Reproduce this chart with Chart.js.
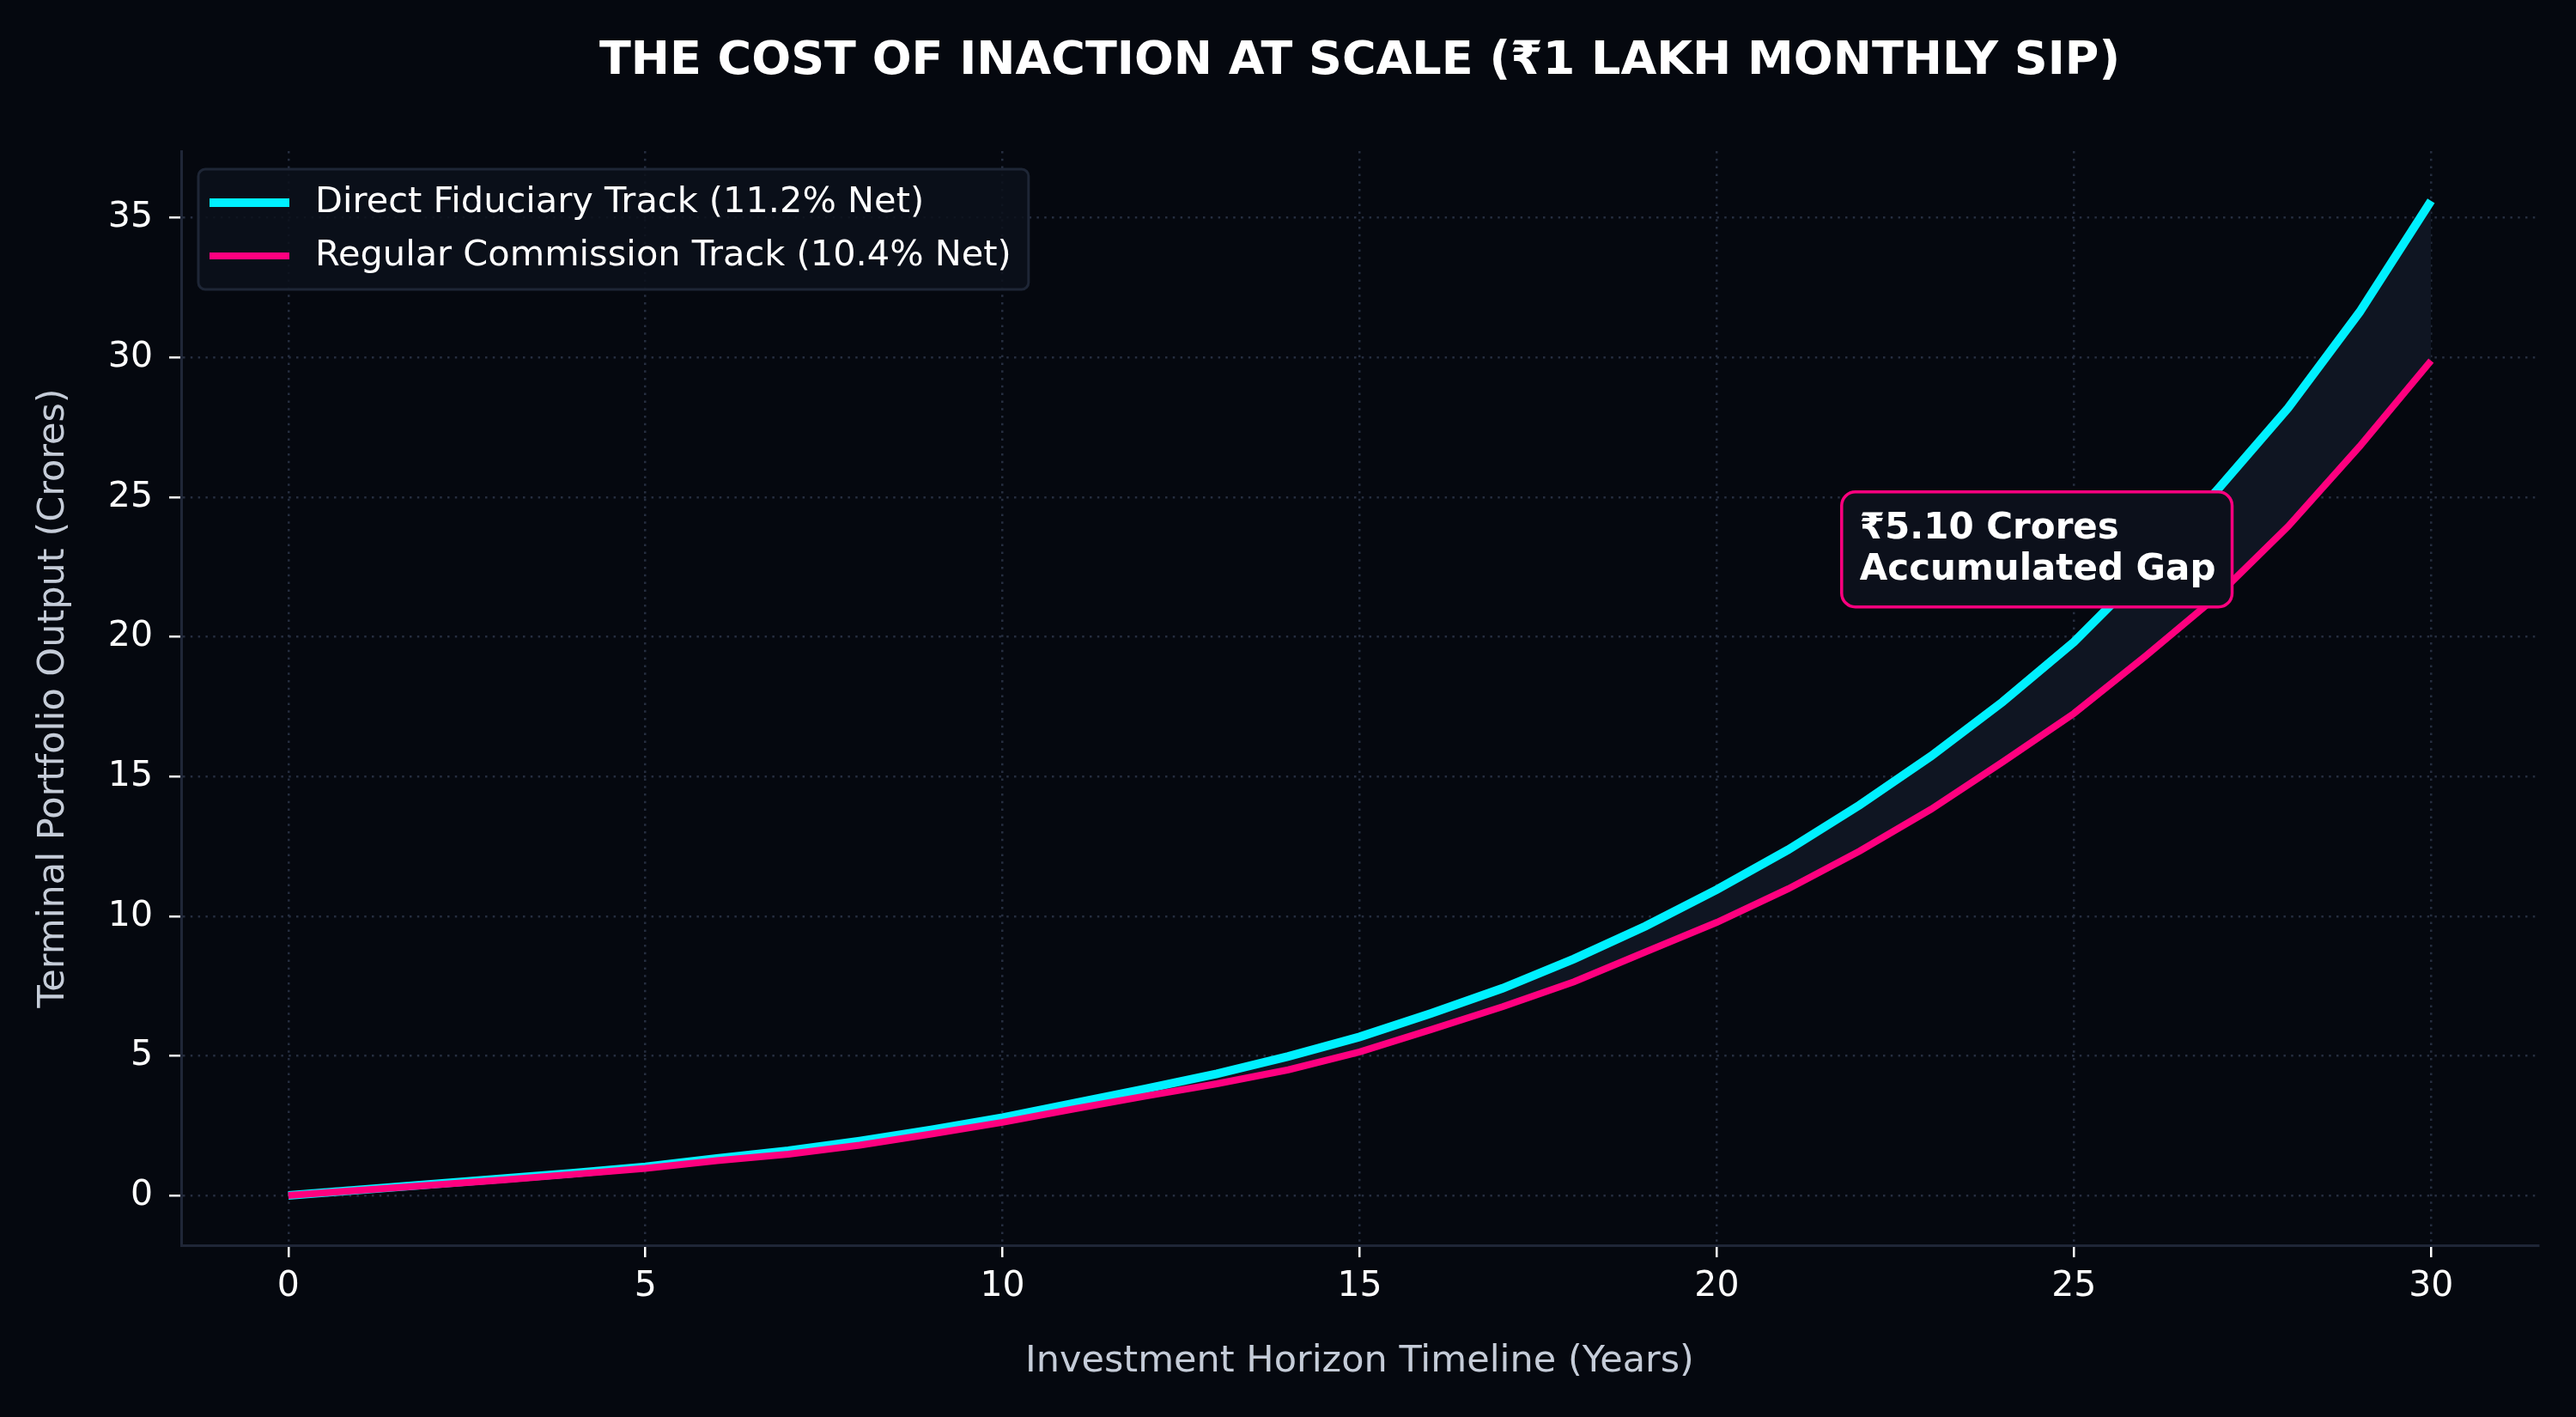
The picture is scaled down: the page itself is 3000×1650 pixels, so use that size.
<!DOCTYPE html>
<html>
<head>
<meta charset="utf-8">
<script src="https://cdn.jsdelivr.net/npm/chart.js@4.4.1/dist/chart.umd.min.js"></script>
<style>
  html, body { margin: 0; padding: 0; background: #05080f; }
  canvas { display: block; }
</style>
</head>
<body>
<canvas id="gapChart" width="3000" height="1650"></canvas>
<script>
// values (crores)
var years = [0, 1, 2, 3, 4, 5, 6, 7, 8, 9, 10, 11, 12, 13, 14, 15, 16, 17, 18, 19, 20, 21, 22, 23, 24, 25, 26, 27, 28, 29, 30];
var directTrack = [0, 0.2, 0.4, 0.6, 0.8, 1.03, 1.33, 1.6, 1.95, 2.35, 2.79, 3.3, 3.82, 4.36, 4.98, 5.68, 6.52, 7.42, 8.47, 9.64, 10.95, 12.38, 13.98, 15.73, 17.67, 19.82, 22.38, 25.24, 28.2, 31.63, 35.61];
var regularTrack = [0, 0.19, 0.37, 0.56, 0.76, 0.97, 1.25, 1.48, 1.8, 2.2, 2.62, 3.1, 3.56, 4.0, 4.5, 5.14, 5.94, 6.76, 7.65, 8.72, 9.78, 10.98, 12.33, 13.83, 15.52, 17.26, 19.31, 21.45, 23.96, 26.82, 29.89];
var xTicks = [0, 5, 10, 15, 20, 25, 30];
var yTicks = [0, 5, 10, 15, 20, 25, 30, 35];
var seriesNames = ['Direct Fiduciary Track (11.2% Net)', 'Regular Commission Track (10.4% Net)'];
var chartTitle = 'THE COST OF INACTION AT SCALE (\u20b91 LAKH MONTHLY SIP)';
var gapNote = ['\u20b95.10 Crores', 'Accumulated Gap'];
var gapNoteAt = { x: 22, y: 23.1 };

var FONT = '"DejaVu Sans", sans-serif';
var gridColor = '#262e40';
var spineColor = '#1f2637';

function toPoints(vals) {
  return years.map(function (yr, i) { return { x: yr, y: vals[i] }; });
}

var extras = {
  id: 'extras',
  afterDraw: function (chart) {
    var ctx = chart.ctx, ca = chart.chartArea;
    var xs = chart.scales.x, ys = chart.scales.y;
    ctx.save();

    // title
    ctx.fillStyle = '#ffffff';
    ctx.font = 'bold 54px ' + FONT;
    ctx.textAlign = 'center';
    ctx.textBaseline = 'alphabetic';
    ctx.fillText(chartTitle, (ca.left + ca.right) / 2, 86);

    // legend
    ctx.font = '41.5px ' + FONT;
    var lx = ca.left + 20, ly = ca.top + 21;
    var tw = Math.max.apply(null, seriesNames.map(function (s) { return ctx.measureText(s).width; }));
    var lw = 136 + tw + 20, lh = 140;
    ctx.beginPath();
    ctx.roundRect(lx, ly, lw, lh, 8);
    ctx.fillStyle = 'rgba(12,16,27,0.85)';
    ctx.fill();
    ctx.lineWidth = 3;
    ctx.strokeStyle = '#1e2636';
    ctx.stroke();
    chart.data.datasets.forEach(function (ds, i) {
      var cy = ly + 39 + i * 62;
      ctx.beginPath();
      ctx.moveTo(lx + 13, cy);
      ctx.lineTo(lx + 106, cy);
      ctx.lineWidth = ds.borderWidth;
      ctx.strokeStyle = ds.borderColor;
      ctx.stroke();
      ctx.fillStyle = '#ffffff';
      ctx.textAlign = 'left';
      ctx.textBaseline = 'middle';
      ctx.fillText(ds.label, lx + 136, cy);
    });

    // gap annotation
    ctx.font = 'bold 42px ' + FONT;
    var nx = xs.getPixelForValue(gapNoteAt.x);
    var ny = ys.getPixelForValue(gapNoteAt.y);
    var nw = Math.max.apply(null, gapNote.map(function (s) { return ctx.measureText(s).width; }));
    ctx.beginPath();
    ctx.roundRect(nx - 21, ny - 68, nw + 40, 134, 16);
    ctx.fillStyle = '#0c101b';
    ctx.fill();
    ctx.lineWidth = 3.5;
    ctx.strokeStyle = '#ff007f';
    ctx.stroke();
    ctx.fillStyle = '#ffffff';
    ctx.textAlign = 'left';
    ctx.textBaseline = 'alphabetic';
    ctx.fillText(gapNote[0], nx, ny - 14);
    ctx.fillText(gapNote[1], nx, ny + 34);

    ctx.restore();
  }
};

new Chart('gapChart', {
  type: 'line',
  data: {
    datasets: [
      {
        label: seriesNames[0],
        data: toPoints(directTrack),
        borderColor: '#00f0ff',
        borderWidth: 10,
        backgroundColor: '#0f1522',
        fill: '+1',
        pointRadius: 0,
        tension: 0,
        order: 1
      },
      {
        label: seriesNames[1],
        data: toPoints(regularTrack),
        borderColor: '#ff007f',
        borderWidth: 8,
        fill: false,
        pointRadius: 0,
        tension: 0,
        order: 0
      }
    ]
  },
  options: {
    responsive: false,
    animation: false,
    devicePixelRatio: 1,
    layout: { padding: { top: 176, right: 44, left: 0, bottom: 0 } },
    plugins: {
      legend: { display: false },
      title: { display: false },
      tooltip: { enabled: false }
    },
    scales: {
      x: {
        type: 'linear',
        min: -1.5,
        max: 31.5,
        afterBuildTicks: function (s) { s.ticks = xTicks.map(function (v) { return { value: v }; }); },
        afterFit: function (s) { s.height = 200; },
        grid: {
          color: gridColor, lineWidth: 2.5,
          tickLength: 14, tickColor: '#ffffff', tickWidth: 2.5, tickBorderDash: []
        },
        border: { color: spineColor, width: 3, dash: [2.5, 6.3] },
        ticks: { color: '#ffffff', font: { family: FONT, size: 41 }, padding: 10, maxRotation: 0 },
        title: {
          display: true, text: 'Investment Horizon Timeline (Years)', color: '#c5ccd8',
          font: { family: FONT, size: 43 }, padding: { bottom: 38 }
        }
      },
      y: {
        min: -1.78,
        max: 37.39,
        afterBuildTicks: function (s) { s.ticks = yTicks.map(function (v) { return { value: v }; }); },
        afterFit: function (s) { s.width = 211; },
        grid: {
          color: gridColor, lineWidth: 2.5,
          tickLength: 14, tickColor: '#ffffff', tickWidth: 2.5, tickBorderDash: []
        },
        border: { color: spineColor, width: 3, dash: [2.5, 6.3] },
        ticks: { color: '#ffffff', font: { family: FONT, size: 41 }, padding: 19 },
        title: {
          display: true, text: 'Terminal Portfolio Output (Crores)', color: '#c5ccd8',
          font: { family: FONT, size: 43 }, padding: { top: 37 }
        }
      }
    }
  },
  plugins: [extras]
});
</script>
</body>
</html>
